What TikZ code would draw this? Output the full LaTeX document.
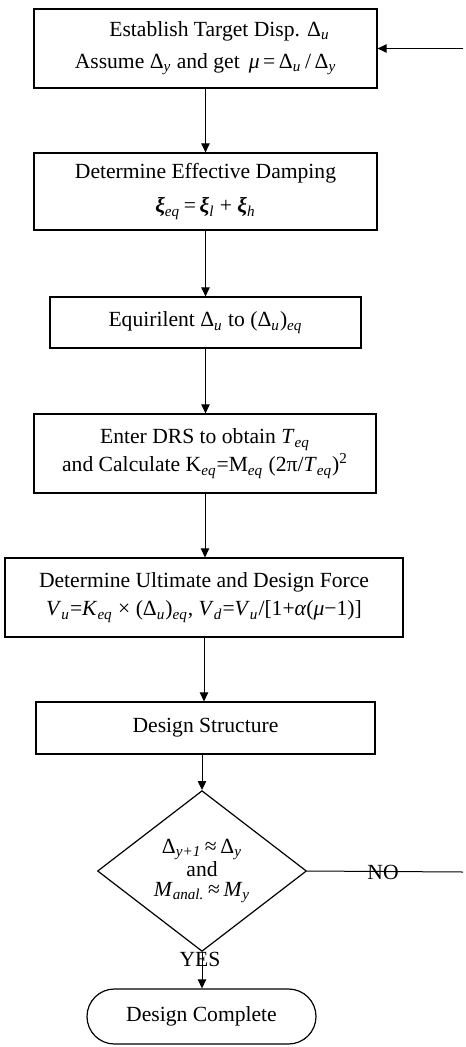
\documentclass[tikz,border=0pt]{standalone}
\usepackage{fontspec}
\setmainfont{Liberation Serif}
\usetikzlibrary{shapes.geometric,arrows.meta}
\newcommand\sbi[1]{\textsubscript{\itshape #1}}
\begin{document}
\begin{tikzpicture}[x=0.5pt,y=-0.5pt,
  txt/.style={font=\fontsize{10.8}{13}\selectfont},
  stepbox/.style={txt,draw,line width=0.6pt,align=center,inner sep=0pt},
  decision/.style={txt,draw,diamond,line width=0.6pt,align=center,inner sep=0pt,
    font=\fontsize{10.8}{10}\selectfont},
  terminal/.style={txt,draw,line width=0.6pt,rounded corners=13.75pt,inner sep=0pt},
  arr/.style={line width=0.5pt,-{Triangle[length=4.5pt,width=4.2pt]}},
  link/.style={line width=0.5pt}]
\useasboundingbox (0,0) rectangle (465,1047);

% process steps
\node[stepbox,minimum width=343*0.5pt,minimum height=79*0.5pt] (b1) at (205.5,48.5)
  {\hspace*{14pt}Establish Target Disp. Δ\sbi{u}\\[3pt]
   Assume Δ\sbi{y} and get \,\textit{μ}\,=\,Δ\sbi{u}\,/\,Δ\sbi{y}};
\node[stepbox,minimum width=343*0.5pt,minimum height=77*0.5pt] (b2) at (205.5,191.5)
  {Determine Effective Damping\\[4pt]
   \textbf{\textit{ξ}}\sbi{eq}\,=\,\textbf{\textit{ξ}}\sbi{l} + \textbf{\textit{ξ}}\sbi{h}};
\node[stepbox,minimum width=311*0.5pt,minimum height=51*0.5pt] (b3) at (205.5,322.5)
  {Equirilent Δ\sbi{u} to (Δ\sbi{u})\sbi{eq}};
\node[stepbox,minimum width=342*0.5pt,minimum height=79*0.5pt] (b4) at (205,453.5)
  {Enter DRS to obtain \textit{T}\sbi{eq}\\[1pt]
   and Calculate K\sbi{eq}=M\sbi{eq} (2π/\textit{T}\sbi{eq})\textsuperscript{2}};
\node[stepbox,minimum width=398*0.5pt,minimum height=79*0.5pt] (b5) at (204,597.5)
  {Determine Ultimate and Design Force\\[1pt]
   \textit{V}\sbi{u}=\textit{K}\sbi{eq} × (Δ\sbi{u})\sbi{eq}, \textit{V}\sbi{d}=\textit{V}\sbi{u}/[1+\textit{α}(\textit{μ}−1)]};
\node[stepbox,minimum width=339*0.5pt,minimum height=52*0.5pt] (b6) at (205.5,728)
  {Design Structure};

% convergence check and end
\node[decision,minimum width=209*0.5pt,minimum height=127*0.5pt] (d) at (202,871)
  {Δ\sbi{y+1}\,≈\,Δ\sbi{y}\\and\\\textit{M}\sbi{anal.}\,≈\,\textit{M}\sbi{y}};
\node[terminal,minimum width=229*0.5pt,minimum height=55*0.5pt] (end) at (201.5,1016.5)
  {Design Complete};

% main flow
\draw[arr] (b1.south) -- (b1.south |- b2.north);
\draw[arr] (b2.south) -- (b2.south |- b3.north);
\draw[arr] (b3.south) -- (b3.south |- b4.north);
\draw[arr] (b4.south) -- (b4.south |- b5.north);
\draw[arr] (b5.south) -- (b5.south |- b6.north);
\draw[arr] (d.north |- b6.south) -- (d.north);
\draw[arr] (d.south) -- (d.south |- end.north);
\node[txt] (yes) at (200,959) {YES};

% iteration loop back to the first step
\coordinate (r1) at (463,872);
\coordinate (r0) at (463,48.5);
\draw[link] (d.east) -- (r1);
\node[txt] (no) at (383,872) {NO};
\draw[arr] (r0) -- (b1.east |- r0);
\end{tikzpicture}
\end{document}
